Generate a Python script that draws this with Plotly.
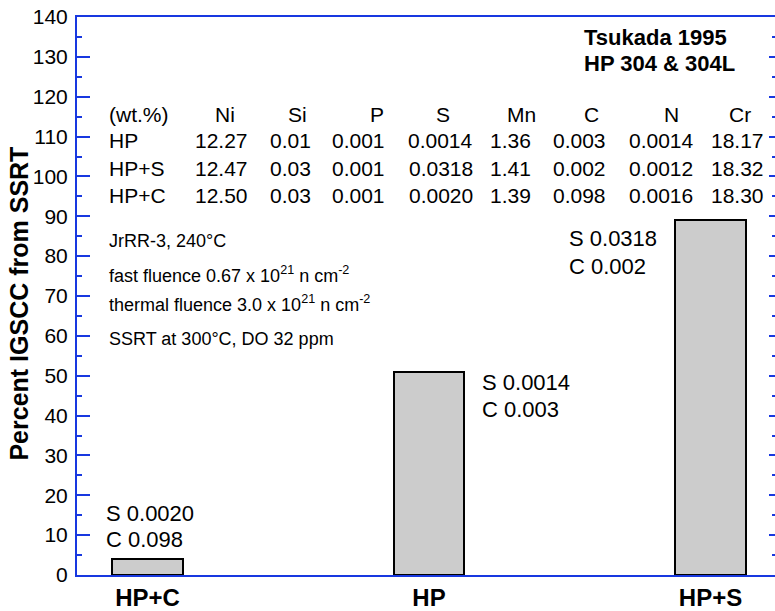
import plotly.graph_objects as go

# ---------------- data ----------------
categories = ["HP+C", "HP", "HP+S"]
igscc_percent = [4, 51, 89]
s_content = ["0.0020", "0.0014", "0.0318"]
c_content = ["0.098", "0.003", "0.002"]

elements = ["Ni", "Si", "P", "S", "Mn", "C", "N", "Cr"]
alloys = ["HP", "HP+S", "HP+C"]
comp_hp = ["12.27", "0.01", "0.001", "0.0014", "1.36", "0.003", "0.0014", "18.17"]
comp_hp_s = ["12.47", "0.03", "0.001", "0.0318", "1.41", "0.002", "0.0012", "18.32"]
comp_hp_c = ["12.50", "0.03", "0.001", "0.0020", "1.39", "0.098", "0.0016", "18.30"]
compositions = [comp_hp, comp_hp_s, comp_hp_c]

conditions = [
    "JrRR-3, 240°C",
    "fast fluence 0.67 x 10<sup>21</sup> n cm<sup>-2</sup>",
    "thermal fluence 3.0 x 10<sup>21</sup> n cm<sup>-2</sup>",
    "SSRT at 300°C, DO 32 ppm",
]
title_lines = ["Tsukada 1995", "HP 304 & 304L"]
y_title = "Percent IGSCC from SSRT"

y_ticks = list(range(0, 141, 10))

# ---------------- layout helpers ----------------
W, H = 775, 611
L, R, T, B = 77, 0, 17, 34
BLUE = "#1838e0"
FONT = "Liberation Sans, Arial, Helvetica, sans-serif"


def px_x(px):
    return (px - L) / (W - L - R)


fig = go.Figure()
fig.add_trace(go.Bar(
    x=categories, y=igscc_percent, width=0.25,
    marker=dict(color="#cccccc", line=dict(color="black", width=2)),
    showlegend=False,
))
# invisible trace for the right-side tick axis
fig.add_trace(go.Scatter(x=[categories[0]], y=[0], yaxis="y2", mode="markers",
                         marker=dict(opacity=0), showlegend=False, hoverinfo="skip"))

ann = []
# table
col_head_px = [225, 297, 377, 443, 521, 591, 671, 740]
col_val_px = [221.5, 290, 358, 440.5, 510, 579, 661, 737]
row_y = [108.9, 102.1, 95.3]
head_y = 115.5
ann.append(dict(text="(wt.%)", x=px_x(107), y=head_y, xanchor="left"))
for e, cx in zip(elements, col_head_px):
    ann.append(dict(text=e, x=px_x(cx), y=head_y, xanchor="center"))
for name, vals, ry in zip(alloys, compositions, row_y):
    ann.append(dict(text=name, x=px_x(107), y=ry, xanchor="left"))
    for v, cx in zip(vals, col_val_px):
        ann.append(dict(text=v, x=px_x(cx), y=ry, xanchor="center"))
for a in ann:
    a.update(xref="paper", yref="y", yanchor="middle", showarrow=False,
             font=dict(size=21, color="black", family=FONT))

# conditions text
for txt, yy in zip(conditions, [83.7, 75.5, 68.0, 59.3]):
    ann.append(dict(text=txt, x=px_x(107), y=yy, xref="paper", yref="y",
                    xanchor="left", yanchor="middle", showarrow=False,
                    font=dict(size=18, color="black", family=FONT)))

# title
for txt, yy in zip(title_lines, [134.9, 128.3]):
    ann.append(dict(text="<b>" + txt + "</b>", x=px_x(582), y=yy, xref="paper", yref="y",
                    xanchor="left", yanchor="middle", showarrow=False,
                    font=dict(size=22, color="black", family=FONT)))

# y-axis title
ann.append(dict(text="<b>" + y_title + "</b>", x=px_x(19), y=68.1, xref="paper", yref="y",
                xanchor="center", yanchor="middle", textangle=-90, showarrow=False,
                font=dict(size=25, color="black", family=FONT)))

# bar labels
bar_lab_px = [104, 480, 567]
bar_lab_y = [(15.5, 9.0), (48.4, 41.6), (84.4, 77.3)]
for s, c, lx, (ys, yc) in zip(s_content, c_content, bar_lab_px, bar_lab_y):
    for txt, yy in ((f"S {s}", ys), (f"C {c}", yc)):
        ann.append(dict(text=txt, x=px_x(lx), y=yy, xref="paper", yref="y",
                        xanchor="left", yanchor="middle", showarrow=False,
                        font=dict(size=22, color="black", family=FONT)))

fig.update_layout(
    width=W, height=H,
    margin=dict(l=L, r=R, t=T, b=B, pad=0),
    paper_bgcolor="white", plot_bgcolor="white",
    font=dict(family=FONT, color="black"),
    annotations=ann,
    bargap=0,
    xaxis=dict(
        range=[-0.2504, 2.229], showline=True, linecolor=BLUE, linewidth=2,
        mirror=True, ticks="", showgrid=False, zeroline=False,
        tickfont=dict(size=24, weight="bold", color="black", family=FONT),
    ),
    yaxis=dict(
        range=[0, 140], tickvals=y_ticks, showline=True, linecolor=BLUE, linewidth=2,
        ticks="inside", ticklen=13, tickwidth=2, tickcolor=BLUE,
        minor=dict(ticks="inside", ticklen=5, tickwidth=2, tickcolor=BLUE, dtick=5),
        showgrid=False, zeroline=False, ticklabelstandoff=3,
        tickfont=dict(size=21, color="black", family=FONT),
    ),
    yaxis2=dict(
        range=[0, 140], tickvals=y_ticks, overlaying="y", side="right",
        showline=False, ticks="inside", ticklen=6, tickwidth=2, tickcolor=BLUE,
        minor=dict(ticks="inside", ticklen=3, tickwidth=2, tickcolor=BLUE, dtick=5),
        showticklabels=False, showgrid=False, zeroline=False,
    ),
)

fig.write_html(
    "out.html",
    config={"displayModeBar": False},
    post_script="document.body.style.margin='0px';document.body.style.overflow='hidden';",
)
